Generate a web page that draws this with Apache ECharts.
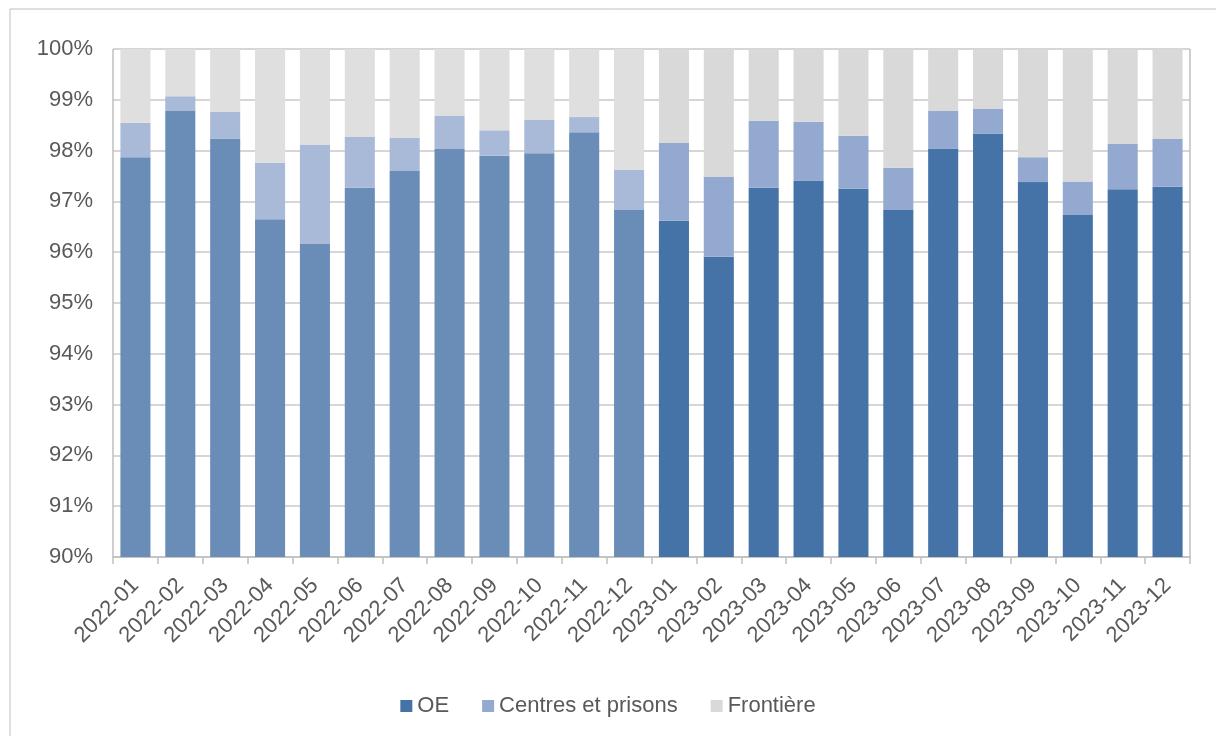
<!DOCTYPE html>
<html>
<head>
<meta charset="utf-8">
<script src="https://cdn.jsdelivr.net/npm/echarts@6/dist/echarts.min.js"></script>
<style>html,body{margin:0;padding:0;background:#fff;}#c{width:1216px;height:736px;}</style>
</head>
<body>
<div id="c"></div>
<script>
const categories = ['2022-01','2022-02','2022-03','2022-04','2022-05','2022-06','2022-07','2022-08','2022-09','2022-10','2022-11','2022-12',
  '2023-01','2023-02','2023-03','2023-04','2023-05','2023-06','2023-07','2023-08','2023-09','2023-10','2023-11','2023-12'];
// Cumulative percentages
const oeShare = [97.87,98.78,98.24,96.65,96.16,97.27,97.60,98.03,97.90,97.95,98.36,96.83,
  96.62,95.91,97.27,97.41,97.25,96.83,98.04,98.33,97.38,96.73,97.24,97.29];
const oePlusCentres = [98.55,99.07,98.76,97.76,98.11,98.27,98.25,98.69,98.40,98.60,98.66,97.62,
  98.15,97.48,98.59,98.57,98.29,97.66,98.78,98.82,97.87,97.39,98.13,98.23];
const yTicks = [90,91,92,93,94,95,96,97,98,99,100];

const oe = oeShare;
const centres = oePlusCentres.map((v,i)=> +(v - oeShare[i]).toFixed(2));
const frontiere = oePlusCentres.map(v => +(100 - v).toFixed(2));

const col2022 = ['#6A8DB8','#A9BAD8','#DFDFDF'];
const col2023 = ['#4573A7','#94A9CF','#D9D9D9'];
const txt = '#595959';
const font = 'Liberation Sans, Arial, sans-serif';

function mk(name, data, k) {
  return {
    name, type: 'bar', stack: 'tot', data,
    barCategoryGap: '33%',
    itemStyle: { color: p => (p.dataIndex < 12 ? col2022[k] : col2023[k]) },
    emphasis: { disabled: true }
  };
}

const chart = echarts.init(document.getElementById('c'));
chart.setOption({
  animation: false,
  color: col2023,
  graphic: [{ type: 'rect', shape: { x: 10, y: 9, width: 1230, height: 760 },
    style: { fill: 'none', stroke: '#BFBFBF', lineWidth: 1 }, silent: true, z: -1 }],
  grid: { left: 113, right: 26, top: 49, bottom: 179 },
  legend: {
    top: 690, left: 'center', itemWidth: 12, itemHeight: 12, itemGap: 33,
    icon: 'rect',
    textStyle: { color: txt, fontSize: 22, fontFamily: font },
    data: ['OE','Centres et prisons','Frontière']
  },
  xAxis: {
    type: 'category', data: categories,
    axisLine: { lineStyle: { color: '#BFBFBF', width: 1.5 } },
    axisTick: { show: true, length: 7, lineStyle: { color: '#BFBFBF', width: 1.5 } },
    axisLabel: { rotate: 45, color: txt, fontSize: 22, fontFamily: font, interval: 0, margin: 25 },
    splitLine: { show: true, interval: (i) => i === 12, lineStyle: { color: '#BFBFBF', width: 1.5 } }
  },
  yAxis: {
    type: 'value', min: 90, max: 100, interval: 1,
    axisLine: { show: false }, axisTick: { show: false },
    axisLabel: { color: txt, fontSize: 22, fontFamily: font, margin: 20,
      formatter: v => yTicks.includes(v) ? v + '%' : '' },
    splitLine: { lineStyle: { color: '#C8C8C8', width: 1.5 } }
  },
  series: [mk('OE', oe, 0), mk('Centres et prisons', centres, 1), mk('Frontière', frontiere, 2)]
});
</script>
</body>
</html>
